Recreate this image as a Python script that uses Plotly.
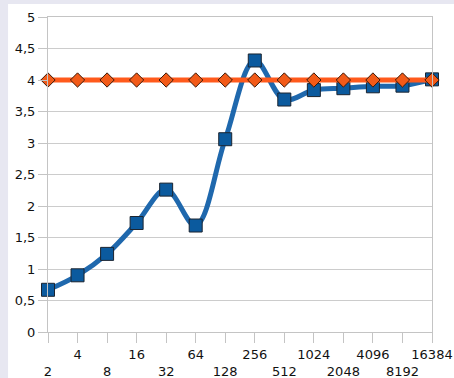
import plotly.graph_objects as go

categories = ["2", "4", "8", "16", "32", "64", "128", "256", "512", "1024", "2048", "4096", "8192", "16384"]
series_blue = [0.67, 0.90, 1.24, 1.73, 2.26, 1.69, 3.06, 4.31, 3.69, 3.84, 3.87, 3.90, 3.91, 4.01]
series_orange = [4.0] * 14
tick_labels = [c if i % 2 == 1 else "<br>" + c for i, c in enumerate(categories)]

fig = go.Figure()
fig.add_trace(go.Scatter(
    x=categories, y=series_blue, mode="lines+markers",
    line=dict(color="#1f68ad", width=5, shape="spline", smoothing=1),
    marker=dict(symbol="square", size=13, color="#0b5a9e", line=dict(color="#1b2430", width=1)),
    showlegend=False, cliponaxis=False,
))
fig.add_trace(go.Scatter(
    x=categories, y=series_orange, mode="lines+markers",
    line=dict(color="#ff5a1c", width=5),
    marker=dict(symbol="diamond", size=11, color="#f25a18", line=dict(color="#3a1a0a", width=1)),
    showlegend=False, cliponaxis=False,
))

fig.add_shape(type="rect", xref="paper", yref="paper", x0=-0.104, x1=1.3, y0=-0.3, y1=1.041,
              fillcolor="white", line=dict(width=0), layer="below")

fig.update_layout(
    width=454, height=378,
    margin=dict(l=48, r=22, t=17, b=46, autoexpand=False),
    paper_bgcolor="#e7e7f1", plot_bgcolor="white",
    separators=",.",
    font=dict(family="DejaVu Sans, sans-serif", size=13, color="#111111"),
)
fig.update_xaxes(
    type="category", range=[0, 13], tickvals=categories, ticktext=tick_labels, tickangle=0,
    showgrid=False, showline=True, linecolor="#c4c4c4", linewidth=1, mirror=True,
    ticks="outside", ticklen=10, tickcolor="#c4c4c4", zeroline=False, automargin=False,
)
fig.update_yaxes(
    range=[0, 5], dtick=0.5, tick0=0, showgrid=True, gridcolor="#cccccc", gridwidth=1,
    showline=True, linecolor="#c4c4c4", linewidth=1, mirror=True,
    ticks="outside", ticklen=9, tickcolor="#c4c4c4", zeroline=False, automargin=False,
)
fig.write_html("out.html", config={"displayModeBar": False, "staticPlot": True},
               post_script="document.body.style.margin='0';document.body.style.overflow='hidden';")
